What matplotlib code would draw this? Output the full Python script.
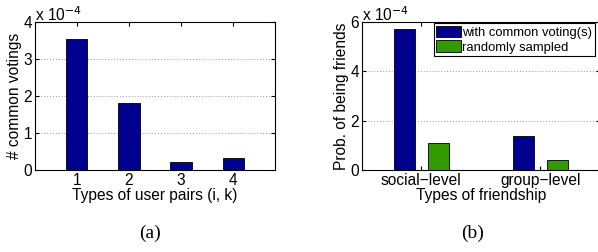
import matplotlib
matplotlib.use("Agg")
import matplotlib.pyplot as plt
import numpy as np

plt.rcParams['font.family'] = ['Liberation Sans', 'DejaVu Sans']

# Panel (a)
pair_types = [1, 2, 3, 4]
common_votings = [3.55, 1.80, 0.21, 0.32]  # x 1e-4

# Panel (b)
friend_types = ["social\u2212level", "group\u2212level"]
with_common = [5.73, 1.39]  # x 1e-4
random_sampled = [1.08, 0.39]  # x 1e-4
legend_labels = ["with common voting(s)", "randomly sampled"]

BLUE = "#00008F"
GREEN = "#339900"
W, H = 598, 252
fig = plt.figure(figsize=(W / 100, H / 100), dpi=100)
FS = 11.2

def style(ax):
    ax.tick_params(direction='in', length=3, top=True, right=True, labelsize=FS, pad=2)
    ax.yaxis.grid(True, linestyle=(0, (1, 2)), color='#999999', linewidth=0.7)
    ax.set_axisbelow(True)
    for s in ax.spines.values():
        s.set_linewidth(0.8)

# (a)
axa = fig.add_axes([35 / W, (H - 170) / H, 240 / W, 148 / H])
axa.bar(pair_types, common_votings, width=0.41, color=BLUE, edgecolor='black', linewidth=0.6)
axa.set_xlim(0.2, 4.8)
axa.set_ylim(0, 4)
axa.set_xticks(pair_types)
axa.set_yticks([0, 1, 2, 3, 4])
style(axa)
axa.set_xlabel("Types of user pairs (i, k)", fontsize=FS, labelpad=0)
axa.set_ylabel("# common votings", fontsize=FS, labelpad=1)
fig.text(35 / W, (H - 15) / H, "x 10$^{-4}$", fontsize=FS, ha='left', va='center')
fig.text(150 / W, (H - 233) / H, "(a)", fontsize=14, family='Liberation Serif', ha='center', va='center')

# (b)
axb = fig.add_axes([361.7 / W, (H - 170) / H, 238.3 / W, 148 / H])
xb = np.arange(1, len(friend_types) + 1)
off = 0.143
bw = 0.175
b1 = axb.bar(xb - off, with_common, width=bw, color=BLUE, edgecolor='black', linewidth=0.6)
b2 = axb.bar(xb + off, random_sampled, width=bw, color=GREEN, edgecolor='black', linewidth=0.6)
axb.set_xlim(0.5, 2.5)
axb.set_ylim(0, 6)
axb.set_xticks(xb)
axb.set_xticklabels(friend_types)
axb.set_yticks([0, 2, 4, 6])
style(axb)
axb.set_xlabel("Types of friendship", fontsize=FS, labelpad=0)
axb.set_ylabel("Prob. of being friends", fontsize=FS, labelpad=1)
fig.text(362 / W, (H - 15) / H, "x 10$^{-4}$", fontsize=FS, ha='left', va='center')
leg = axb.legend([b1, b2], legend_labels, loc='upper right',
                 bbox_to_anchor=(595 / W, (H - 23) / H), bbox_transform=fig.transFigure,
                 borderaxespad=0, fontsize=9.4, fancybox=False, framealpha=1,
                 handlelength=1.9, handleheight=1.0, handletextpad=0.1,
                 borderpad=0.2, labelspacing=0.1)
leg.get_frame().set_edgecolor('black')
leg.get_frame().set_linewidth(0.8)
fig.text(473 / W, (H - 233) / H, "(b)", fontsize=14, family='Liberation Serif', ha='center', va='center')

fig.savefig("out.png", dpi=100)
